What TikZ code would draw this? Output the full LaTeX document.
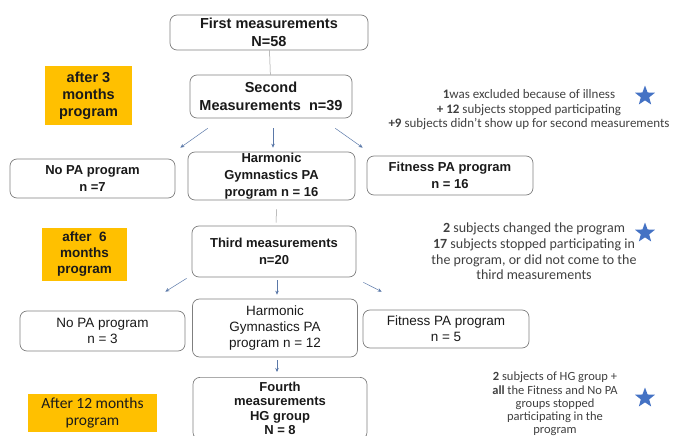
\documentclass[tikz,border=0pt]{standalone}
\usepackage{fontspec}
\setmainfont{Liberation Sans}
\newfontfamily\notefont{Carlito}
\usetikzlibrary{shapes.geometric,arrows.meta}
\definecolor{boxline}{HTML}{7F7F7F}
\definecolor{orangebox}{HTML}{FFC000}
\definecolor{arrowc}{HTML}{5A78A8}
\definecolor{starc}{HTML}{4472C4}
\definecolor{txt}{HTML}{1A1A1A}
\definecolor{notec}{HTML}{404040}
\begin{document}
\begin{tikzpicture}[x=1pt,y=-1pt,
  mbox/.style={draw=boxline, line width=0.7pt, rounded corners=7pt, align=center, inner sep=0pt, font=\bfseries\fontsize{13}{17}\selectfont, text=txt},
  rbox/.style={draw=boxline, line width=0.7pt, rounded corners=7pt, align=center, inner sep=0pt, font=\fontsize{13.5}{16}\selectfont, text=txt},
  obox/.style={fill=orangebox, align=center, inner sep=0pt, font=\bfseries\fontsize{14.5}{17}\selectfont, text=txt},
  note/.style={align=center, font=\notefont\fontsize{13}{14.5}\selectfont, text=notec, inner sep=0pt},
  arr/.style={draw=arrowc, line width=0.5pt, -{Stealth[length=4pt,width=3.5pt]}},
  plainline/.style={draw=gray!80, line width=0.5pt},
  bluestar/.style={star, star points=5, star point ratio=2.4, fill=starc, minimum size=21pt, inner sep=0pt}
]
\useasboundingbox (0,0) rectangle (680,436);

\node[mbox, minimum width=198pt, minimum height=35pt, font=\bfseries\fontsize{14.5}{17.5}\selectfont] (first) at (269,32.5) {First measurements\\N=58};
\node[mbox, minimum width=162pt, minimum height=43pt, font=\bfseries\fontsize{14.5}{18}\selectfont] (second) at (271,96.5) {Second\\Measurements\ \ n=39};
\node[obox, minimum width=87pt, minimum height=59pt] (after3) at (88.5,95.5) {after 3\\months\\program};
\node[note] (note1) at (529,110) {\textbf{1}was excluded because of illness\\\textbf{+ 12} subjects stopped participating\\\textbf{+9} subjects didn’t show up for second measurements};
\node[bluestar] (star1) at (645,96) {};

\node[mbox, minimum width=165pt, minimum height=39pt] (nopa2) at (92.5,178.5) {No PA program\\n =7};
\node[mbox, minimum width=167pt, minimum height=48pt] (hg2) at (271.5,176) {Harmonic\\Gymnastics PA\\program n = 16};
\node[mbox, minimum width=166pt, minimum height=39pt, font=\bfseries\fontsize{13}{16.5}\selectfont] (fit2) at (450,175.5) {Fitness PA program\\n = 16};

\node[mbox, minimum width=164pt, minimum height=51pt] (third) at (274,251.5) {Third measurements\\n=20};
\node[obox, minimum width=85pt, minimum height=53pt, font=\bfseries\fontsize{13.5}{16}\selectfont] (after6) at (84.5,254.5) {after\ \ 6\\months\\program};
\node[note, font=\notefont\fontsize{14}{15.7}\selectfont] (note2) at (534,251.5) {\textbf{2} subjects changed the program\\\textbf{17} subjects stopped participating in\\the program, or did not come to the\\third measurements};
\node[bluestar] (star2) at (645,233) {};

\node[rbox, minimum width=165pt, minimum height=40pt] (nopa3) at (102.5,331) {No PA program\\n = 3};
\node[rbox, minimum width=165pt, minimum height=58pt] (hg3) at (275,328) {Harmonic\\Gymnastics PA\\program n = 12};
\node[rbox, minimum width=166pt, minimum height=38pt] (fit3) at (446,329) {Fitness PA program\\n = 5};

\node[mbox, minimum width=174pt, minimum height=62pt, font=\bfseries\fontsize{13}{14.2}\selectfont, anchor=north] (fourth) at (280,377) {Fourth\\measurements\\HG group\\N = 8};
\node[obox, minimum width=129pt, minimum height=38pt, font=\notefont\fontsize{15.5}{17}\selectfont] (after12) at (92.5,413) {After 12 months\\program};
\node[note, font=\notefont\fontsize{12.5}{13.2}\selectfont] (note3) at (555,404) {\textbf{2} subjects of HG group +\\\textbf{all} the Fitness and No PA\\groups stopped\\participating in the\\program};
\node[bluestar] (star3) at (645,398) {};

\draw[plainline] (first) -- (second);
\draw[arr] ([shift={(18,10)}]second.south west) -- ([shift={(5,-11)}]nopa2.north east);
\draw[arr] ([shift={(2,10)}]second.south) -- ([shift={(1.5,-4)}]hg2.north);
\draw[arr] ([shift={(-17,10)}]second.south east) -- ([shift={(-4,-8)}]fit2.north west);
\draw[plainline] ([shift={(5,9)}]hg2.south) -- ([shift={(2,-3)}]third.north);
\draw[arr] ([shift={(-5,1)}]third.south west) -- ([shift={(-20,-19)}]nopa3.north east);
\draw[arr] ([shift={(3,3)}]third.south) -- ([shift={(2,-4)}]hg3.north);
\draw[arr] ([shift={(7,5)}]third.south east) -- ([shift={(19,-18)}]fit3.north west);
\draw[arr] ([shift={(2,3)}]hg3.south) -- ([shift={(-3,-5)}]fourth.north);
\end{tikzpicture}
\end{document}
